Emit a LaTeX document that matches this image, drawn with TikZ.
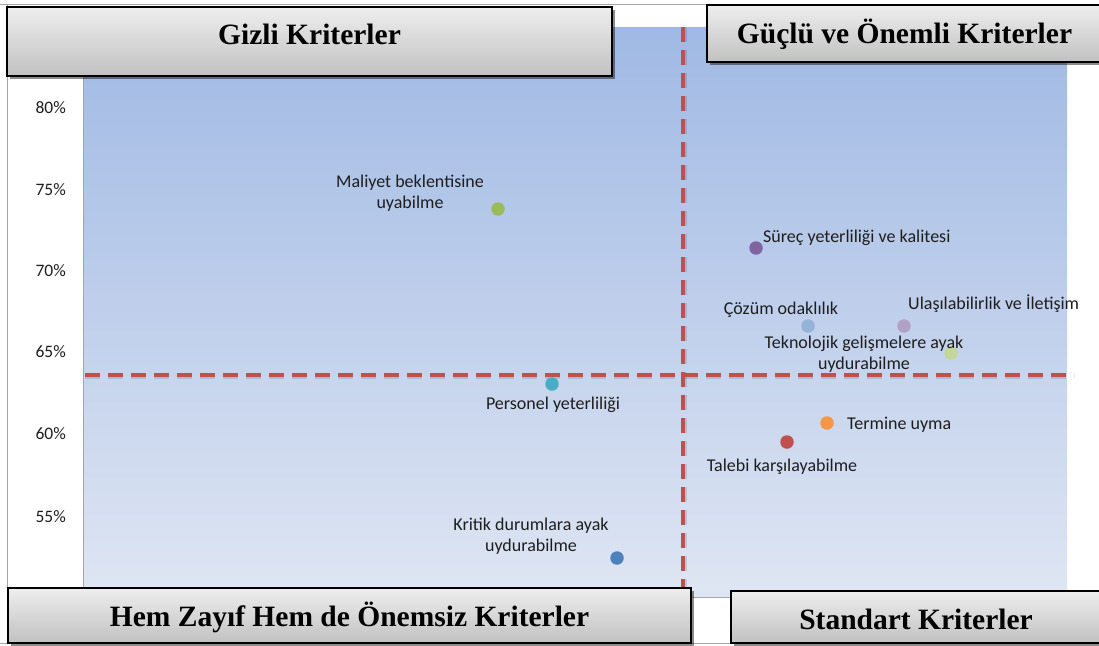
\documentclass[tikz,border=0pt]{standalone}
\usepackage{fontspec}
\setmainfont{Liberation Serif}
\newfontfamily\labelfont{Carlito}
\usetikzlibrary{shadows}

\definecolor{plottop}{RGB}{160,185,228}
\definecolor{plotbot}{RGB}{223,230,243}
\definecolor{quadred}{RGB}{192,80,77}
\definecolor{boxtop}{RGB}{238,238,238}
\definecolor{boxbot}{RGB}{193,193,193}
\definecolor{framegray}{RGB}{165,165,165}
\definecolor{txt}{RGB}{30,30,30}
% series colours
\definecolor{cGreen}{RGB}{155,187,89}
\definecolor{cPurple}{RGB}{128,100,162}
\definecolor{cLightBlue}{RGB}{149,179,215}
\definecolor{cLilac}{RGB}{178,161,199}
\definecolor{cPaleGreen}{RGB}{195,214,155}
\definecolor{cTeal}{RGB}{75,172,198}
\definecolor{cOrange}{RGB}{247,150,70}
\definecolor{cRed}{RGB}{192,80,77}
\definecolor{cBlue}{RGB}{79,129,189}

\tikzset{
  titlebox/.style={draw=black, line width=1.8pt, top color=boxtop, bottom color=boxbot,
    font=\bfseries\fontsize{29.5}{32}\selectfont, inner sep=0pt,
    text height=20pt, text depth=6pt,
    drop shadow={shadow xshift=3pt, shadow yshift=-3pt, fill=black, opacity=.45}},
  ptdot/.style={circle, inner sep=0pt, minimum size=13.5pt, draw=none},
  lbl/.style={font=\labelfont\fontsize{18}{21}\selectfont, text=txt, inner sep=0pt, align=center},
  axlbl/.style={font=\labelfont\fontsize{17.5}{20}\selectfont, text=txt, inner sep=0pt, anchor=east},
  quadline/.style={draw=quadred, line width=3.6pt, dash pattern=on 15pt off 8pt},
  quadshadow/.style={draw=black, opacity=.12, line width=4.5pt, dash pattern=on 15pt off 8pt},
}

\begin{document}
\begin{tikzpicture}[x=1pt,y=-1pt]
\useasboundingbox (0,0) rectangle (1099,645);
\fill[white] (0,0) rectangle (1099,645);

% chart frame
\coordinate (frTL) at (0,4);
\coordinate (frTR) at (1099,4);
\coordinate (frL1) at (7,4);
\coordinate (frL2) at (7,643);
\coordinate (frB1) at (0,643);
\coordinate (frB2) at (1099,643);
\draw[framegray, line width=1pt] (frTL) -- (frTR);
\draw[framegray, line width=1pt] (frL1) -- (frL2);
\draw[framegray, line width=1pt] (frB1) -- (frB2);

% plot area
\shade[top color=plottop, bottom color=plotbot] (83,27) rectangle (1067,597);
\coordinate (paTL) at (83,27);
\coordinate (paBL) at (83,597);
\coordinate (paBR) at (1067,597);
\draw[framegray, line width=0.8pt] (paTL) -- (paBL) -- (paBR);

% y axis
\node[axlbl] (y80) at (66,108) {80\%};
\node[axlbl] (y75) at (66,190) {75\%};
\node[axlbl] (y70) at (66,271) {70\%};
\node[axlbl] (y65) at (66,352) {65\%};
\node[axlbl] (y60) at (66,434) {60\%};
\node[axlbl] (y55) at (66,517) {55\%};

% quadrant dividers
\coordinate (hA) at (85,375);
\coordinate (hB) at (1074,375);
\coordinate (vA) at (683,27);
\coordinate (vB) at (683,592);
\draw[quadshadow] ([yshift=-2pt]hA) -- ([yshift=-2pt]hB);
\draw[quadshadow] ([xshift=2pt]vA) -- ([xshift=2pt]vB);
\draw[quadline] (hA) -- (hB);
\draw[quadline] (vA) -- (vB);

% data points
\node[ptdot, fill=cGreen]     (maliyet)  at (498,209) {};
\node[ptdot, fill=cPurple]    (surec)    at (756,248) {};
\node[ptdot, fill=cLightBlue] (cozum)    at (808,326) {};
\node[ptdot, fill=cLilac]     (ulasim)   at (904,326) {};
\node[ptdot, fill=cPaleGreen] (tekno)    at (951,353) {};
\node[ptdot, fill=cTeal]      (personel) at (552,384) {};
\node[ptdot, fill=cOrange]    (termin)   at (827,423) {};
\node[ptdot, fill=cRed]       (talep)    at (787,442) {};
\node[ptdot, fill=cBlue]      (kritik)   at (617,558) {};

% point labels
\node[lbl] (lMaliyet)  at (410,193) {Maliyet beklentisine\\uyabilme};
\node[lbl, anchor=west] (lSurec) at (763,238) {Süreç yeterliliği ve kalitesi};
\node[lbl] (lCozum)    at (781,310) {Çözüm odaklılık};
\node[lbl, anchor=west] (lUlasim) at (908,304) {Ulaşılabilirlik ve İletişim};
\node[lbl] (lTekno)    at (864,354) {Teknolojik gelişmelere ayak\\uydurabilme};
\node[lbl] (lPersonel) at (553,405) {Personel yeterliliği};
\node[lbl, anchor=west] (lTermin) at (847,425) {Termine uyma};
\node[lbl] (lTalep)    at (782,467) {Talebi karşılayabilme};
\node[lbl] (lKritik)   at (531,536) {Kritik durumlara ayak\\uydurabilme};

% quadrant titles
\node[titlebox, minimum width=605pt, minimum height=69pt] (gizli) at (309.5,41.5) {\raisebox{4pt}{Gizli Kriterler}};
\node[titlebox, minimum width=395pt, minimum height=57pt] (guclu) at (904.5,33.5) {\raisebox{-3pt}{Güçlü ve Önemli Kriterler}};
\node[titlebox, minimum width=683pt, minimum height=55pt] (zayif) at (349.5,615.5) {\raisebox{-4pt}{Hem Zayıf Hem de Önemsiz Kriterler}};
\node[titlebox, minimum width=370pt, minimum height=52pt] (standart) at (916,617) {\raisebox{-5pt}{Standart Kriterler}};
\end{tikzpicture}
\end{document}
